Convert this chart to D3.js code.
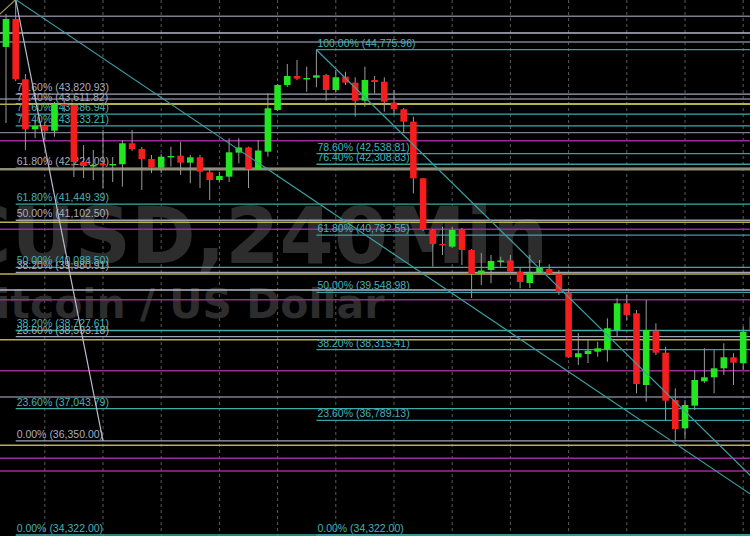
<!DOCTYPE html>
<html><head><meta charset="utf-8">
<script src="https://cdn.jsdelivr.net/npm/d3@7"></script>
<style>html,body{margin:0;padding:0;background:#000;overflow:hidden}svg{display:block}</style>
</head><body>
<svg id="c" width="750" height="536"></svg>
<script>
// ---- DATA (BTCUSD 240Min candles) ----
const opens  = [44835,45438,44139,43062,43133,43031,43600,43585,42357,42271,42314,42299,42308,42760,42637,42422,42234,42476,42493,42342,42458,42135,41969,42041,42558,42670,42200,42579,43477,44016,44210,44156,44173,44231,43908,44195,44066,43678,44123,44087,43635,43492,43225,42006,40892,40591,40533,40907,40462,39945,40031,40225,40235,39988,39751,39977,40052,39945,39542,38150,38221,38271,38322,38738,39313,39098,37553,38723,38249,37230,36620,37108,37633,37719,37913,38150,38021,38701];
const highs  = [45545,45855,44253,43262,43219,43650,43693,43628,42723,42616,43047,42465,42831,43047,42680,42508,42530,42687,42794,42508,42508,42228,42142,42868,42868,42687,42831,43837,44037,44468,44554,44410,44775.96,44253,44339,44302,44182,44410,44210,44182,43908,43520,43333,42013,40914,40964,40964,40936,40483,40397,40354,40317,40354,40074,40354,40246,40153,40031,39600,38674,38523,38486,38990,39421,39492,39169,39384,38882,38378,37482,37230,37861,38344,38307,38452,38236,38809,39169];
const lows   = [43197,44100,42616,42874,42831,42902,43434,42034,42013,41969,41797,41926,41825,42594,41754,42120,42120,42256,42077,41898,41797,41539,41926,41926,42329,41797,42185,42471,43456,43973,44124,43871,43966,43678,43865,44016,43333,43548,43837,43441,43370,42982,41683,40871,40102,40354,40504,40138,39428,39708,39744,40102,39966,39636,39643,39945,39923,39492,38135,37984,38027,38163,38055,38594,38954,37375,37194,38199,36799,36332,36405,37015,37597,37375,37769,37553,37877,38630];
const closes = [45438,44139,43062,43133,43031,43600,43585,42357,42271,42293,42282,42314,42760,42637,42422,42234,42471,42487,42342,42458,42148,41969,42056,42566,42670,42200,42605,43514,44016,44210,44152,44167,44225,43908,44182,44066,43678,44123,44080,43656,43499,43225,42006,40892,40591,40569,40892,40462,39945,40020,40225,40235,39994,39772,39973,40074,39955,39563,38150,38236,38292,38344,38775,39313,39061,37575,38738,38249,37215,36605,37123,37661,37719,37913,38150,38034,38701,39024];

// Fibonacci retracements (level %, price)
const fibAPct   = [78.6,76.4,61.8,50,38.2,23.6,0];
const fibAPrice = [43820.93,43611.82,42224.09,41102.50,39980.91,38593.18,36350.00];
const fibBPct   = [78.6,76.4,61.8,50,38.2,23.6,0];
const fibBPrice = [43386.94,43133.21,41449.39,40088.50,38727.61,37043.79,34322.00];
const fibCPct   = [100,78.6,76.4,61.8,50,38.2,23.6,0];
const fibCPrice = [44775.96,42538.81,42308.83,40782.55,39548.98,38315.41,36789.13,34322.00];
const fibStart  = {A:1, B:1, C:32};   // candle index where each drawing starts

// other horizontal levels
const grayLevels    = [45496,44942,43714,42988,37295];
const silverLevels  = [45136,39600];
const yellowLevels  = [43600,41058,39945,38529,36254];
const oliveLevels   = [42200];
const magentaLevels = [42816,40908,39391,37861,35974,35701];

// trend lines [candle index, price]
const trendA   = [[1,45855],[10,36350]];
const trendB   = [[1,45855],[83,34322]];
const trendC   = [[32,44775.96],[83,34322]];
const trendTan = [[-0.7,45530],[1,45855]];

const watermark1 = "BTCUSD,240Min";
const watermark2 = "Bitcoin / US Dollar";

// ---- CHART ----
const W=750,H=536;
const svg=d3.select("#c");
svg.append("rect").attr("width",W).attr("height",H).attr("fill","#000");

const candles = opens.map((o,i)=>({i,o,h:highs[i],l:lows[i],c:closes[i]}));
const x = d3.scaleLinear().domain([0,77]).range([6, 6+9.7*77]);
const y = d3.scaleLinear().domain([34322,44775.96]).range([535,49.7]);

// vertical dashed day grid (every 6 candles)
svg.append("g").selectAll("line").data(d3.range(4,80,6)).join("line")
  .attr("x1",d=>x(d)).attr("x2",d=>x(d)).attr("y1",0).attr("y2",H)
  .attr("stroke","#5a5a5a").attr("stroke-width",1).attr("stroke-dasharray","3,3");

// watermark
svg.append("text").text(watermark1).attr("x",548).attr("y",263)
  .attr("text-anchor","end").attr("font-family","DejaVu Sans").attr("font-weight","bold")
  .attr("font-size",78).attr("fill","#2d2d2d");
svg.append("text").text(watermark2).attr("x",-35).attr("y",318)
  .attr("text-anchor","start").attr("font-family","DejaVu Sans").attr("font-weight","bold")
  .attr("font-size",41).attr("fill","#2d2d2d");

// horizontal levels
function hlines(levels, color, width){
  svg.append("g").selectAll("line").data(levels).join("line")
    .attr("x1",0).attr("x2",W).attr("y1",d=>y(d)).attr("y2",d=>y(d))
    .attr("stroke",color).attr("stroke-width",width);
}
hlines(grayLevels,"#7c7e90",1.3);
hlines(silverLevels,"#b4b8c8",1.3);
hlines(magentaLevels,"#9a2c96",1.5);

// fib lines
function fibLines(prices,start,color){
  svg.append("g").selectAll("line").data(prices).join("line")
    .attr("x1",x(start)).attr("x2",W).attr("y1",d=>y(d)).attr("y2",d=>y(d))
    .attr("stroke",color).attr("stroke-width",1.3);
}
fibLines(fibAPrice,fibStart.A,"#a0a4b6");
fibLines(fibBPrice,fibStart.B,"#3fa9ab");
fibLines(fibCPrice,fibStart.C,"#3a9fa2");
hlines(yellowLevels,"#b8b048",1.5);
hlines(oliveLevels,"#8e8c76",2.6);

// fib labels
const fmt=d3.format(",.2f");
function fibLabels(pcts,prices,start,color){
  svg.append("g").selectAll("text").data(prices).join("text")
    .attr("x",x(start)+1).attr("y",d=>y(d)-3)
    .attr("font-family","Liberation Sans, Arial, sans-serif").attr("font-size",10.5)
    .attr("fill",color)
    .text((d,i)=>d3.format(".2f")(pcts[i])+"% ("+fmt(d)+")");
}
fibLabels(fibAPct,fibAPrice,fibStart.A,"#a9adc0");
fibLabels(fibBPct,fibBPrice,fibStart.B,"#45b3ba");
fibLabels(fibCPct,fibCPrice,fibStart.C,"#45b3ba");

// candles
const cg=svg.append("g");
cg.selectAll("line").data(candles).join("line")
  .attr("x1",d=>x(d.i)).attr("x2",d=>x(d.i)).attr("y1",d=>y(d.h)).attr("y2",d=>y(d.l))
  .attr("stroke","#9a9a9a").attr("stroke-width",1);
const bw=6.6;
cg.selectAll("rect").data(candles).join("rect")
  .attr("x",d=>x(d.i)-bw/2).attr("width",bw)
  .attr("y",d=>y(Math.max(d.o,d.c)))
  .attr("height",d=>Math.max(1.5,Math.abs(y(d.o)-y(d.c))))
  .attr("fill",d=>d.c>=d.o?"#22e622":"#f41e1e");

// trend lines
const line=d3.line().x(d=>x(d[0])).y(d=>y(d[1]));
svg.append("path").attr("d",line(trendA)).attr("fill","none").attr("stroke","#b8bccc").attr("stroke-width",1.2);
svg.append("path").attr("d",line(trendB)).attr("fill","none").attr("stroke","#3c9ea2").attr("stroke-width",1.2);
svg.append("path").attr("d",line(trendC)).attr("fill","none").attr("stroke","#3c9ea2").attr("stroke-width",1.2);
svg.append("path").attr("d",line(trendTan)).attr("fill","none").attr("stroke","#a89a60").attr("stroke-width",1.2);
</script>
</body></html>
